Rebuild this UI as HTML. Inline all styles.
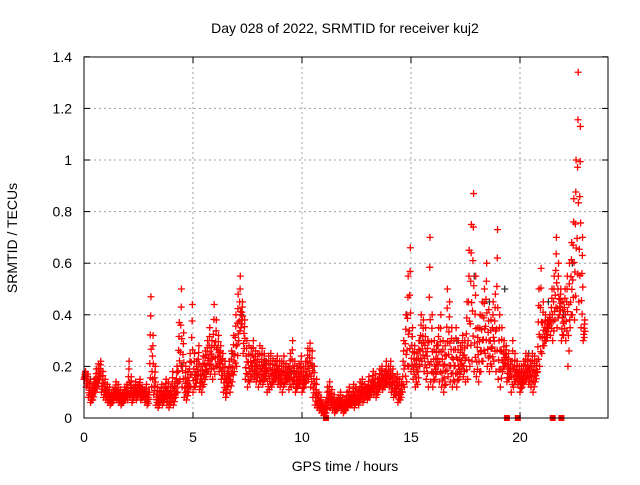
<!DOCTYPE html>
<html><head><meta charset="utf-8"><style>
body{margin:0;background:#fff;}
svg text{font-family:"Liberation Sans",sans-serif;font-size:14px;fill:#000;}
</style></head><body>
<svg id="chart" width="640" height="480">
<rect width="640" height="480" fill="#fff"/>
<g id="grid"></g>
<g id="marks"></g>
<rect x="84" y="57" width="524" height="361" fill="none" stroke="#000" stroke-width="1"/>
<g id="ticks"></g>
<text x="345" y="33" text-anchor="middle">Day 028 of 2022, SRMTID for receiver kuj2</text>
<text x="345" y="471" text-anchor="middle">GPS time / hours</text>
<text transform="translate(17,238) rotate(-90)" text-anchor="middle">SRMTID / TECUs</text>
</svg>
<script>
const xTicks=[0,5,10,15,20];
const yTicks=[0,0.2,0.4,0.6,0.8,1,1.2,1.4];
const yTickLabels=["0","0.2","0.4","0.6","0.8","1","1.2","1.4"];
const sampleStep=0.1;
const lowVals=[
0.15,0.12,0.08,0.06,0.07,0.10,0.12,0.15,0.10,0.08,
0.07,0.06,0.05,0.06,0.08,0.07,0.06,0.05,0.06,0.07,
0.07,0.08,0.06,0.08,0.07,0.09,0.07,0.08,0.06,0.05,
0.10,0.12,0.09,0.05,0.04,0.06,0.05,0.07,0.05,0.04,
0.06,0.05,0.08,0.10,0.15,0.12,0.08,0.07,0.10,0.12,
0.10,0.12,0.15,0.11,0.10,0.13,0.16,0.18,0.17,0.15,
0.17,0.20,0.18,0.15,0.10,0.08,0.12,0.10,0.14,0.18,
0.20,0.30,0.35,0.25,0.15,0.12,0.14,0.16,0.15,0.14,
0.12,0.14,0.13,0.15,0.10,0.11,0.12,0.14,0.15,0.13,
0.12,0.10,0.13,0.14,0.11,0.12,0.13,0.10,0.12,0.13,
0.10,0.12,0.14,0.15,0.12,0.08,0.05,0.04,0.03,0.02,
0.01,0.02,0.05,0.04,0.03,0.02,0.03,0.04,0.03,0.02,
0.03,0.04,0.05,0.05,0.04,0.06,0.05,0.07,0.06,0.08,
0.07,0.08,0.10,0.09,0.08,0.10,0.12,0.11,0.12,0.13,
0.12,0.10,0.08,0.09,0.06,0.07,0.10,0.12,0.14,0.20,
0.18,0.15,0.12,0.13,0.20,0.22,0.18,0.15,0.12,0.14,
0.12,0.15,0.18,0.14,0.12,0.10,0.13,0.16,0.14,0.12,
0.14,0.12,0.15,0.18,0.16,0.14,0.15,0.20,0.22,0.18,
0.16,0.14,0.18,0.22,0.25,0.20,0.18,0.20,0.22,0.18,
0.15,0.12,0.18,0.20,0.14,0.15,0.10,0.12,0.14,0.13,
0.10,0.12,0.14,0.15,0.13,0.12,0.10,0.14,0.18,0.20,
0.25,0.28,0.30,0.35,0.32,0.30,0.38,0.35,0.40,0.30,
0.32,0.30,0.20,0.35,0.40,0.38,0.42,0.45,0.35,0.30];
const highVals=[
0.18,0.17,0.14,0.12,0.15,0.19,0.21,0.22,0.18,0.15,
0.13,0.12,0.10,0.11,0.14,0.13,0.11,0.10,0.12,0.13,
0.22,0.16,0.12,0.14,0.13,0.15,0.12,0.11,0.13,0.10,
0.47,0.32,0.20,0.12,0.10,0.13,0.12,0.15,0.14,0.12,
0.18,0.14,0.20,0.37,0.50,0.33,0.20,0.18,0.25,0.44,
0.25,0.22,0.28,0.20,0.24,0.26,0.30,0.35,0.30,0.44,
0.38,0.32,0.28,0.25,0.22,0.18,0.22,0.26,0.32,0.40,
0.48,0.55,0.45,0.38,0.30,0.28,0.27,0.30,0.26,0.25,
0.28,0.27,0.25,0.22,0.24,0.25,0.23,0.22,0.24,0.22,
0.22,0.24,0.21,0.20,0.25,0.30,0.22,0.20,0.21,0.24,
0.20,0.22,0.27,0.29,0.26,0.20,0.15,0.10,0.08,0.06,
0.06,0.12,0.14,0.11,0.09,0.07,0.08,0.10,0.08,0.07,
0.10,0.12,0.09,0.13,0.12,0.11,0.14,0.15,0.13,0.12,
0.16,0.14,0.18,0.17,0.15,0.19,0.20,0.18,0.22,0.20,
0.22,0.19,0.16,0.17,0.15,0.14,0.30,0.40,0.55,0.66,
0.35,0.28,0.25,0.30,0.40,0.38,0.35,0.30,0.70,0.40,
0.30,0.28,0.35,0.40,0.30,0.28,0.50,0.45,0.35,0.30,
0.35,0.30,0.28,0.32,0.30,0.45,0.65,0.75,0.87,0.55,
0.35,0.40,0.45,0.50,0.60,0.42,0.38,0.45,0.48,0.73,
0.40,0.35,0.30,0.28,0.25,0.22,0.30,0.25,0.22,0.20,
0.20,0.22,0.25,0.24,0.22,0.25,0.24,0.22,0.50,0.58,
0.45,0.40,0.38,0.40,0.50,0.55,0.70,0.60,0.50,0.45,
0.50,0.55,0.60,0.68,0.85,1.00,1.34,1.13,0.70,0.38];
const blackTimes=[0.3,1.2,2.4,3.1,4.5,5.6,6.8,7.2,8.3,9.5,10.5,11.6,12.8,13.9,14.8,15.4,16.2,17.1,17.9,18.6,19.3,20.4,21.3,22.0,22.4];
const blackVals=[0.15,0.08,0.10,0.12,0.20,0.18,0.25,0.40,0.22,0.18,0.20,0.05,0.10,0.15,0.40,0.30,0.28,0.30,0.55,0.45,0.50,0.25,0.45,0.40,0.60];
const zeroTimes=[11.1,19.4,19.9,21.5,21.9];

const X0=84,XPH=21.8,Y0=418,YPU=258;
const xs=t=>X0+t*XPH, ys=v=>Y0-v*YPU;
const NS="http://www.w3.org/2000/svg";
const grid=document.getElementById('grid'),ticks=document.getElementById('ticks'),marks=document.getElementById('marks');
function mk(tag,attrs,parent){const e=document.createElementNS(NS,tag);for(const k in attrs)e.setAttribute(k,attrs[k]);parent.appendChild(e);return e;}
xTicks.forEach(t=>{
  const x=xs(t);
  if(t>0){const g=mk('line',{x1:x,x2:x,y1:57,y2:418,stroke:'#a0a0a0','stroke-dasharray':'2,3'},grid);
  
  }
  mk('line',{x1:x,x2:x,y1:418,y2:412,stroke:'#000'},ticks);
  mk('line',{x1:x,x2:x,y1:57,y2:63,stroke:'#000'},ticks);
  const l=mk('text',{x:x,y:442,'text-anchor':'middle'},ticks);l.textContent=t;
  
  
});
yTicks.forEach((v,i)=>{
  const y=ys(v);
  if(v>0&&v<1.4){const g=mk('line',{x1:84,x2:608,y1:y,y2:y,stroke:'#a0a0a0','stroke-dasharray':'2,3'},grid);
  
  }
  mk('line',{x1:84,x2:90,y1:y,y2:y,stroke:'#000'},ticks);
  mk('line',{x1:602,x2:608,y1:y,y2:y,stroke:'#000'},ticks);
  const l=mk('text',{x:72,y:y+5,'text-anchor':'end'},ticks);l.textContent=yTickLabels[i];
  
  
});
function plus(t,v,col,name){
  const x=xs(t),y=ys(v);
  const p=mk('path',{d:`M${x-3.5},${y}h7M${x},${y-3.5}v7`,stroke:col,'stroke-width':1.3,fill:'none'},marks);
  
  
}
blackTimes.forEach((t,i)=>plus(t,blackVals[i],'#333','black-point'));
const fr=[0,0.15,0.3,0.45,0.6,0.8,1];
const dx=[0,0.05,0.02,0.08,0.04,0.06,0.07];
lowVals.forEach((lo,i)=>{
  const hi=highVals[i],t=i*sampleStep;
  fr.forEach((f,k)=>plus(t+dx[k],lo+(hi-lo)*f,'#f00','red-point'));
});
zeroTimes.forEach(t=>{
  const r=mk('rect',{x:xs(t)-3,y:415,width:6,height:6,fill:'#f00'},marks);
  
  
});
</script>
</body></html>
